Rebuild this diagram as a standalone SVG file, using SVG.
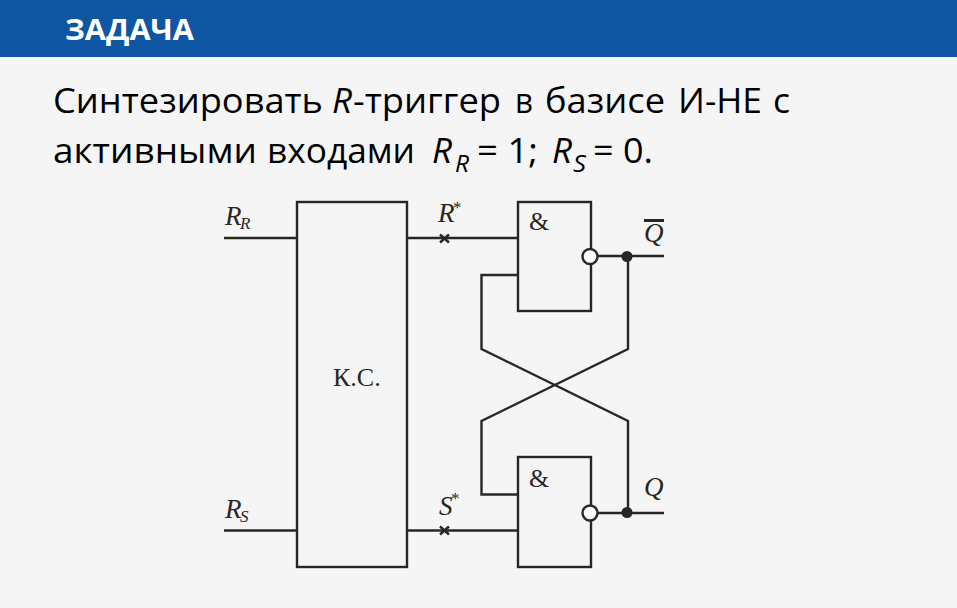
<svg xmlns="http://www.w3.org/2000/svg" width="957" height="608" viewBox="0 0 957 608">
<style>
.b{fill:none;stroke:#2a2623;stroke-width:2.400}
.w{stroke:#2a2623;stroke-width:2.400;fill:none}
.h{font-family:"Open Sans","Noto Sans",sans-serif;font-size:34px;fill:#000}
.s{font-family:"Liberation Serif",serif;font-style:italic;fill:#2a2623;font-size:27px}
.u{font-size:17px}
.i{font-style:italic}
</style>
<rect width="957" height="608" fill="#f5f5f5"/>
<g id="header">
<rect width="957" height="57" fill="#0e56a2"/>
<text x="65" y="40" font-family="'Open Sans','Noto Sans',sans-serif" font-size="28" font-weight="700" fill="#fff" textLength="129" lengthAdjust="spacingAndGlyphs">ЗАДАЧА</text>
</g>
<g id="title">
<text class="h" x="53" y="113" textLength="270" lengthAdjust="spacingAndGlyphs">Синтезировать</text>
<text class="h i" x="332" y="113" textLength="20" lengthAdjust="spacingAndGlyphs">R</text>
<text class="h" x="353" y="113" textLength="148" lengthAdjust="spacingAndGlyphs">-триггер</text>
<text class="h" x="515" y="113" textLength="18" lengthAdjust="spacingAndGlyphs">в</text>
<text class="h" x="545" y="113" textLength="120" lengthAdjust="spacingAndGlyphs">базисе</text>
<text class="h" x="678" y="113" textLength="84" lengthAdjust="spacingAndGlyphs">И-НЕ</text>
<text class="h" x="773" y="113" textLength="17" lengthAdjust="spacingAndGlyphs">с</text>
<text class="h" x="53" y="163" textLength="204" lengthAdjust="spacingAndGlyphs">активными</text>
<text class="h" x="267" y="163" textLength="148" lengthAdjust="spacingAndGlyphs">входами</text>
<text class="h i" x="432" y="163" textLength="20" lengthAdjust="spacingAndGlyphs">R</text>
<text class="h i" x="455" y="172" style="font-size:23px" textLength="14" lengthAdjust="spacingAndGlyphs">R</text>
<text class="h" x="477" y="163" textLength="61" lengthAdjust="spacingAndGlyphs">= 1;</text>
<text class="h i" x="552" y="163" textLength="20" lengthAdjust="spacingAndGlyphs">R</text>
<text class="h i" x="573" y="172" style="font-size:23px" textLength="13" lengthAdjust="spacingAndGlyphs">S</text>
<text class="h" x="593" y="163" textLength="60" lengthAdjust="spacingAndGlyphs">= 0.</text>
</g>
<g id="connectors">
<path class="w" d="M224 238H297M224 530.500H297M407 238H518M407 530.500H518"/>
<path class="w" d="M440 234.500l9 8m0-8l-9 8M440 526.500l9 8m0-8l-9 8"/>
<path class="w" d="M597 256H664M597 513H664"/>
<path class="w" d="M518 275H481.500V349L628 421V513"/>
<path class="w" d="M628 256V349L481.500 421V494.500H518"/>
</g>
<g id="ks">
<rect class="b" x="297" y="202" width="110" height="365"/>
<text x="333" y="386" font-family="'Liberation Serif',serif" font-size="26" fill="#2a2623">К.С.</text>
</g>
<g id="gate1">
<rect class="b" x="518" y="202" width="73" height="109"/>
<circle cx="590" cy="256.500" r="7.500" fill="#fff" stroke="#2a2623" stroke-width="2.400"/>
<text class="s" x="529" y="230" style="font-style:normal;font-size:26px">&amp;</text>
</g>
<g id="gate2">
<rect class="b" x="518" y="457" width="73" height="110"/>
<circle cx="590" cy="513" r="7.500" fill="#fff" stroke="#2a2623" stroke-width="2.400"/>
<text class="s" x="529" y="487" style="font-style:normal;font-size:26px">&amp;</text>
</g>
<g id="junctions" fill="#2a2623">
<circle cx="627" cy="256.500" r="5.500"/>
<circle cx="627" cy="512.500" r="5.500"/>
</g>
<g id="labels">
<text class="s" x="225" y="225">R</text><text class="s u" x="240" y="229">R</text>
<text class="s" x="225" y="518">R</text><text class="s u" x="240" y="522">S</text>
<text class="s" x="438" y="222">R</text><text class="s u" x="453" y="213" style="font-style:normal">*</text>
<text class="s" x="439" y="515">S</text><text class="s u" x="451" y="504" style="font-style:normal">*</text>
<text class="s" x="644" y="242">Q</text>
<path d="M644 220.500H664" stroke="#2a2623" stroke-width="3"/>
<text class="s" x="644" y="496">Q</text>
</g>
</svg>
